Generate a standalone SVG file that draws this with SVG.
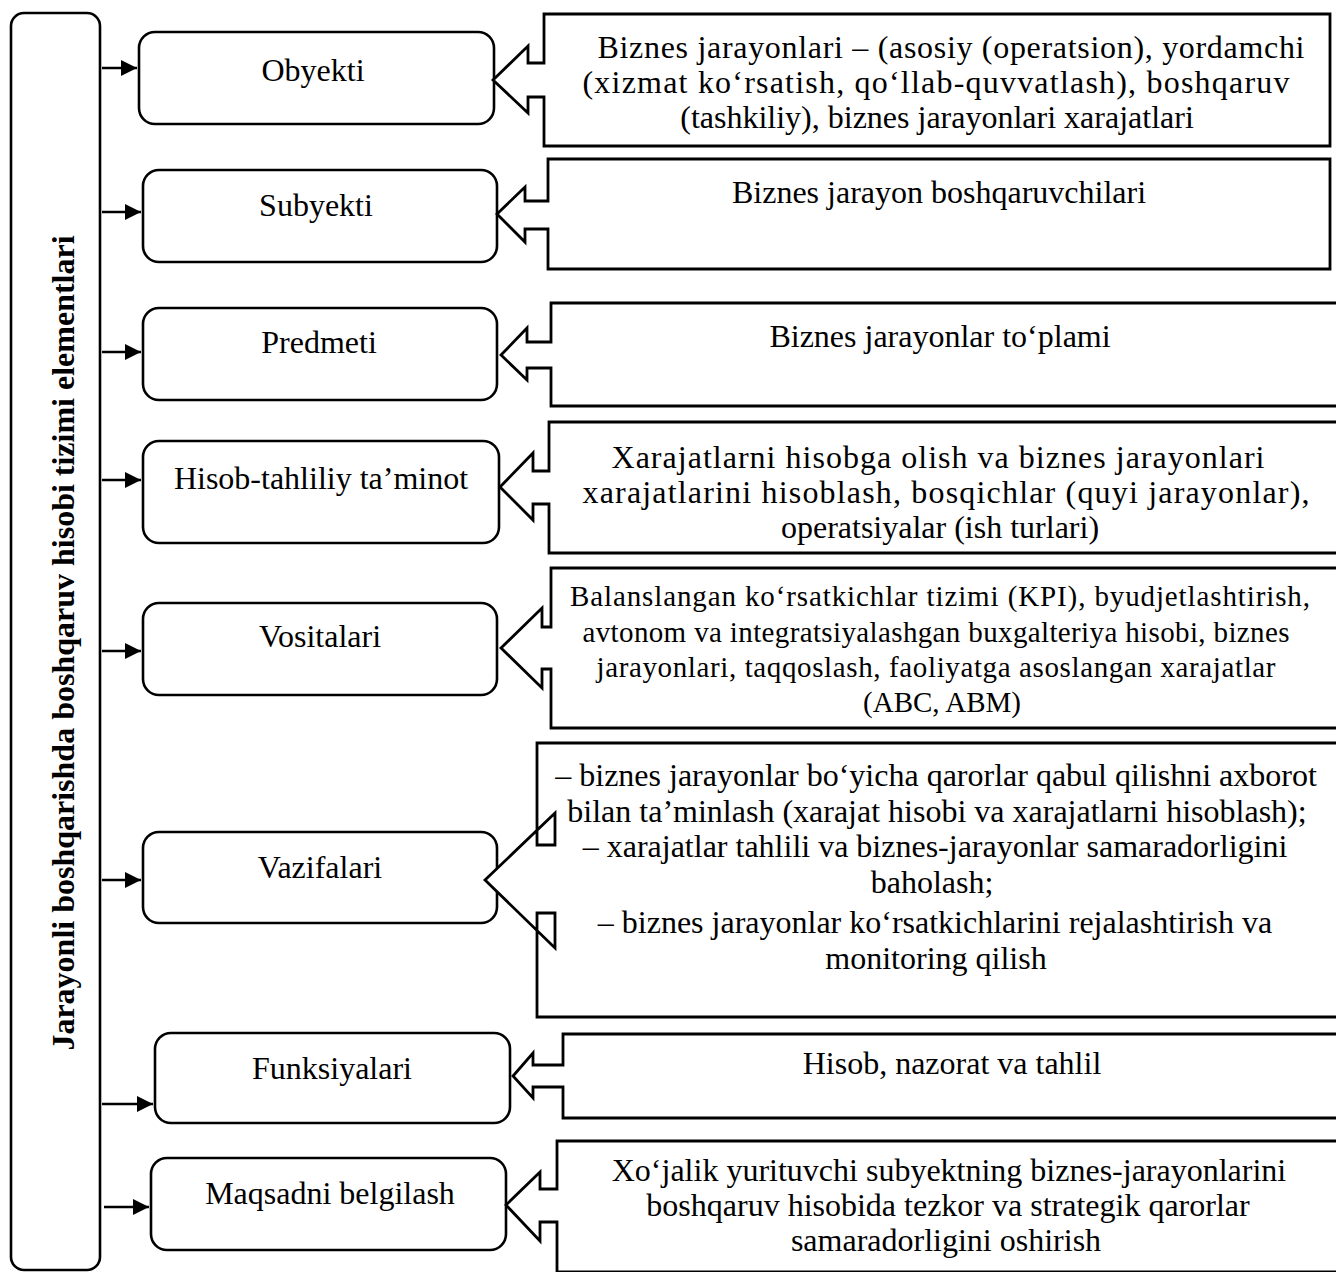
<svg xmlns="http://www.w3.org/2000/svg" width="1336" height="1272" viewBox="0 0 1336 1272">
<defs>
<marker id="ah" markerWidth="16" markerHeight="16" refX="16" refY="8" orient="auto" markerUnits="userSpaceOnUse">
<path d="M0,0 L16,8 L0,16 Z" fill="#000"/>
</marker>
<style>
.node{fill:#fff;stroke:#000;stroke-width:2.6}
.call{fill:#fff;stroke:#000;stroke-width:2.8;stroke-linejoin:miter}
.t{font-family:"Liberation Serif","Times New Roman",serif;font-size:32px;fill:#000;text-anchor:middle}
.s{font-size:29px}
.c{stroke:#000;stroke-width:2.6;fill:none}
</style>
</defs>
<rect width="1336" height="1272" fill="#fff"/>
<g id="bar">
<rect x="11" y="13" width="89" height="1257" rx="13" class="node"/>
<text class="t" font-weight="bold" font-size="31" transform="translate(74,643) rotate(-90)">Jarayonli boshqarishda boshqaruv hisobi tizimi elementlari</text>
</g>
<g id="connectors">
<line x1="102" y1="68" x2="137" y2="68" class="c" marker-end="url(#ah)"/>
<line x1="102" y1="212" x2="141" y2="212" class="c" marker-end="url(#ah)"/>
<line x1="102" y1="352" x2="141" y2="352" class="c" marker-end="url(#ah)"/>
<line x1="102" y1="480" x2="141" y2="480" class="c" marker-end="url(#ah)"/>
<line x1="102" y1="651" x2="141" y2="651" class="c" marker-end="url(#ah)"/>
<line x1="102" y1="880" x2="141" y2="880" class="c" marker-end="url(#ah)"/>
<line x1="102" y1="1104" x2="153" y2="1104" class="c" marker-end="url(#ah)"/>
<line x1="104" y1="1207" x2="149" y2="1207" class="c" marker-end="url(#ah)"/>
</g>
<g id="n1">
<rect x="139" y="32" width="355" height="92" rx="16" class="node"/>
<text class="t" x="313" y="81">Obyekti</text>
</g>
<g id="c1">
<path class="call" d="M544,14 H1330 V146 H544 V97 H528 V113 L493,80 L528,46 V63 H544 Z"/>
<text class="t" x="951" y="58" textLength="707" lengthAdjust="spacing">Biznes  jarayonlari – (asosiy (operatsion), yordamchi</text>
<text class="t" x="936" y="93" textLength="707" lengthAdjust="spacing">(xizmat ko‘rsatish, qo‘llab-quvvatlash), boshqaruv</text>
<text class="t" x="937" y="128">(tashkiliy), biznes jarayonlari xarajatlari</text>
</g>
<g id="n2">
<rect x="143" y="170" width="354" height="92" rx="16" class="node"/>
<text class="t" x="316" y="216">Subyekti</text>
</g>
<g id="c2">
<path class="call" d="M548,159 H1330 V269 H548 V229 H525 V242 L497,214 L525,187 V201 H548 Z"/>
<text class="t" x="939" y="203">Biznes jarayon boshqaruvchilari</text>
</g>
<g id="n3">
<rect x="143" y="308" width="354" height="92" rx="16" class="node"/>
<text class="t" x="319" y="353">Predmeti</text>
</g>
<g id="c3">
<path class="call" d="M551,303 H1340 V406 H551 V368 H527 V380 L501,355 L527,328 V342 H551 Z"/>
<text class="t" x="940" y="347">Biznes jarayonlar to‘plami</text>
</g>
<g id="n4">
<rect x="143" y="441" width="356" height="102" rx="16" class="node"/>
<text class="t" x="321" y="489">Hisob-tahliliy ta’minot</text>
</g>
<g id="c4">
<path class="call" d="M549,422 H1340 V553 H549 V504 H533 V520 L500,487 L533,453 V471 H549 Z"/>
<text class="t" x="938" y="468" textLength="653" lengthAdjust="spacing">Xarajatlarni hisobga olish va biznes jarayonlari</text>
<text class="t" x="946" y="503" textLength="727" lengthAdjust="spacing">xarajatlarini hisoblash, bosqichlar (quyi jarayonlar),</text>
<text class="t" x="940" y="538">operatsiyalar (ish turlari)</text>
</g>
<g id="n5">
<rect x="143" y="603" width="354" height="92" rx="16" class="node"/>
<text class="t" x="320" y="647">Vositalari</text>
</g>
<g id="c5">
<path class="call" d="M551,568 H1340 V728 H551 V669 H542 V688 L501,648 L542,608 V627 H551 Z"/>
<text class="t s" x="940" y="606" textLength="740" lengthAdjust="spacing">Balanslangan ko‘rsatkichlar tizimi (KPI), byudjetlashtirish,</text>
<text class="t s" x="936" y="642" textLength="707" lengthAdjust="spacing">avtonom va integratsiyalashgan buxgalteriya hisobi, biznes</text>
<text class="t s" x="936" y="677" textLength="679" lengthAdjust="spacing">jarayonlari, taqqoslash, faoliyatga asoslangan xarajatlar</text>
<text class="t s" x="942" y="712">(ABC, ABM)</text>
</g>
<g id="n6">
<rect x="143" y="832" width="354" height="91" rx="16" class="node"/>
<text class="t" x="320" y="878">Vazifalari</text>
</g>
<g id="c6">
<path class="call" d="M537,743 H1340 V1017 H537 V913 H555 V948 L485,880 L555,813 V845 H537 Z"/>
<text class="t" x="936" y="786">– biznes jarayonlar bo‘yicha qarorlar qabul qilishni axborot</text>
<text class="t" x="937" y="822">bilan ta’minlash (xarajat hisobi va xarajatlarni hisoblash);</text>
<text class="t" x="935" y="857">– xarajatlar tahlili va biznes-jarayonlar samaradorligini</text>
<text class="t" x="932" y="893">baholash;</text>
<text class="t" x="935" y="933">– biznes jarayonlar ko‘rsatkichlarini rejalashtirish va</text>
<text class="t" x="936" y="969">monitoring qilish</text>
</g>
<g id="n7">
<rect x="155" y="1033" width="355" height="90" rx="16" class="node"/>
<text class="t" x="332" y="1079">Funksiyalari</text>
</g>
<g id="c7">
<path class="call" d="M563,1034 H1340 V1118 H563 V1087 H533 V1098 L513,1076 L533,1053 V1065 H563 Z"/>
<text class="t" x="952" y="1074">Hisob, nazorat va tahlil</text>
</g>
<g id="n8">
<rect x="151" y="1158" width="355" height="92" rx="16" class="node"/>
<text class="t" x="330" y="1204">Maqsadni belgilash</text>
</g>
<g id="c8">
<path class="call" d="M557,1141 H1340 V1272 H557 V1222 H540 V1241 L506,1205 L540,1172 V1189 H557 Z"/>
<text class="t" x="949" y="1181">Xo‘jalik yurituvchi subyektning biznes-jarayonlarini</text>
<text class="t" x="948" y="1216">boshqaruv hisobida tezkor va strategik qarorlar</text>
<text class="t" x="946" y="1251">samaradorligini oshirish</text>
</g>
</svg>
